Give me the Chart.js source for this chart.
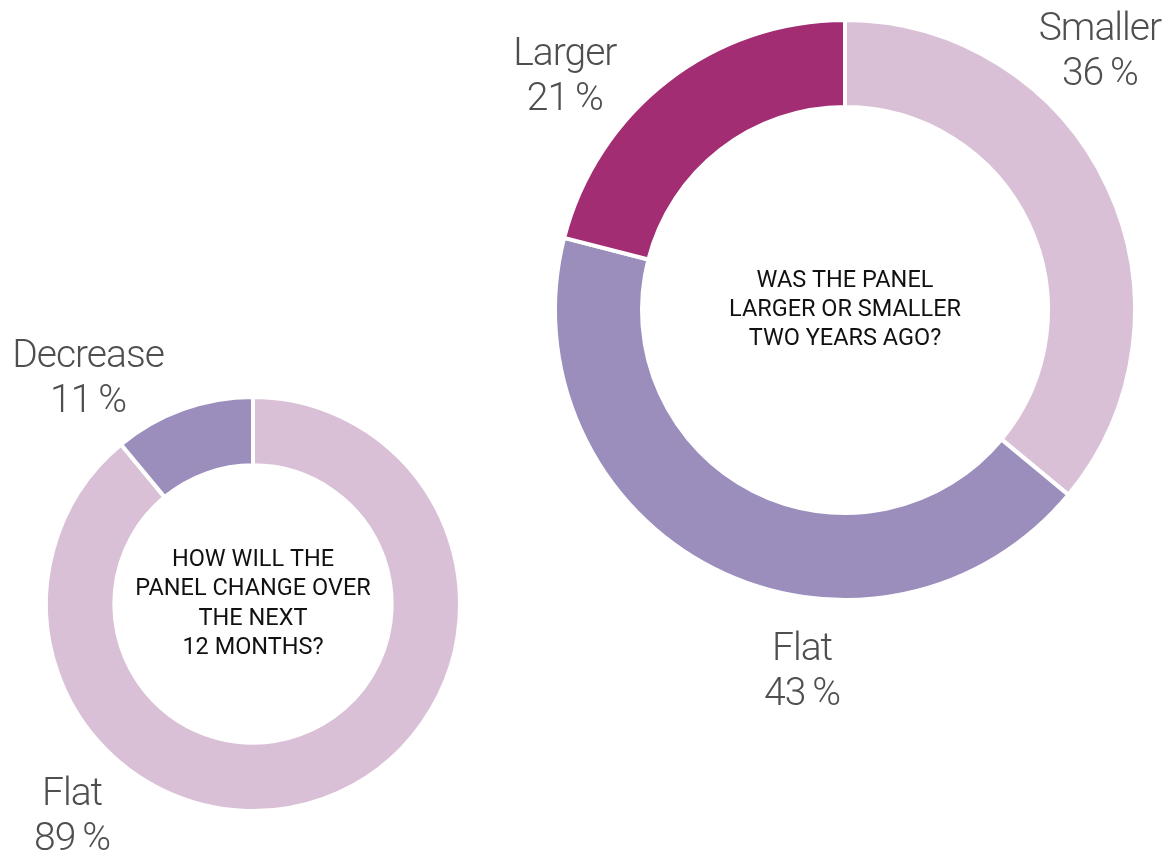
<!DOCTYPE html>
<html>
<head>
<meta charset="utf-8">
<script src="https://cdn.jsdelivr.net/npm/chart.js@4.4.1/dist/chart.umd.min.js"></script>
<style>
  html, body { margin: 0; padding: 0; background: #fff; }
  body { width: 1172px; height: 856px; position: relative; overflow: hidden; }
  .box { position: absolute; }
  #futureBox { left: 0; top: 320px; width: 480px; height: 536px; }
  #pastBox { left: 480px; top: 0; width: 692px; height: 720px; }
</style>
</head>
<body>
<div class="box" id="futureBox"><canvas id="future"></canvas></div>
<div class="box" id="pastBox"><canvas id="past"></canvas></div>
<script>
// panel outlook: next 12 months
var futureLabels = ['Flat', 'Decrease'];
var futureValues = [89, 11];
var futureQuestion = ['HOW WILL THE', 'PANEL CHANGE OVER', 'THE NEXT', '12 MONTHS?'];

// panel size compared to two years ago
var pastLabels = ['Smaller', 'Flat', 'Larger'];
var pastValues = [36, 43, 21];
var pastQuestion = ['WAS THE PANEL', 'LARGER OR SMALLER', 'TWO YEARS AGO?'];

var PINK = '#d9c0d6';
var LAVENDER = '#9b8ebc';
var MAGENTA = '#a32d73';

// draws the question in the hole and the outside labels (name + percent)
var donutText = {
    id: 'donutText',
    afterDraw: function (chart, args, opts) {
        var ctx = chart.ctx;
        var arc = chart.getDatasetMeta(0).data[0];
        var cx = arc.x, cy = arc.y, r = arc.outerRadius;
        var ds = chart.data.datasets[0];

        ctx.save();
        ctx.textAlign = 'center';
        ctx.textBaseline = 'middle';
        ctx.fillStyle = '#111';
        ctx.font = '400 23.5px Roboto, "DejaVu Sans", sans-serif';
        var lines = opts.question;
        var lh = 29.3;
        var top = cy - (lines.length - 1) * lh / 2;
        lines.forEach(function (line, i) {
            ctx.fillText(line, cx, top + i * lh);
        });

        ctx.textBaseline = 'alphabetic';
        ctx.fillStyle = '#4f4f4f';
        ctx.font = '300 39px Roboto, "DejaVu Sans", sans-serif';
        ctx.letterSpacing = '-1px';
        chart.data.labels.forEach(function (label, i) {
            var p = opts.places[i];
            var x = cx + p[0] * r;
            var y = cy + p[1] * r;
            ctx.fillText(label, x, y);
            ctx.fillText(ds.data[i] + '\u2009%', x, y + 45);
        });
        ctx.restore();
    }
};

function donut(id, labels, values, colors, cutout, padding, question, places) {
    return new Chart(document.getElementById(id), {
        type: 'doughnut',
        data: {
            labels: labels,
            datasets: [{
                data: values,
                backgroundColor: colors,
                borderColor: '#fff',
                borderWidth: 4,
                hoverOffset: 0
            }]
        },
        options: {
            responsive: true,
            maintainAspectRatio: false,
            animation: false,
            cutout: cutout,
            rotation: 0,
            layout: { padding: padding },
            plugins: {
                legend: { display: false },
                tooltip: { enabled: false },
                donutText: { question: question, places: places }
            }
        },
        plugins: [donutText]
    });
}

donut('future', futureLabels, futureValues, [PINK, LAVENDER], '67%',
    { left: 44, top: 75, right: 18, bottom: 43 },
    futureQuestion,
    [[-0.874, 0.971], [-0.797, -1.145]]);

donut('past', pastLabels, pastValues, [PINK, LAVENDER, MAGENTA], '70%',
    { left: 73, top: 18, right: 35, bottom: 118 },
    pastQuestion,
    [[0.879, -0.931], [-0.148, 1.207], [-0.966, -0.845]]);
</script>
</body>
</html>
